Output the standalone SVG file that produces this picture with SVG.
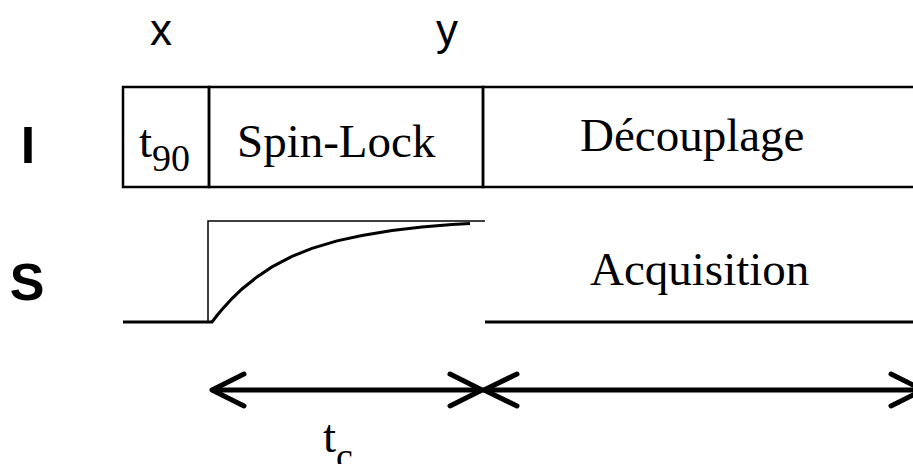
<svg xmlns="http://www.w3.org/2000/svg" width="913" height="464" viewBox="0 0 913 464">
<style>
.lab{font-family:"Liberation Sans",Arial,sans-serif;fill:#000}
.big{font-size:52px;font-weight:bold}
.xy{font-size:44px}
.tm{font-family:"Liberation Serif","Times New Roman",serif;font-size:47px;fill:#000}
.sub{font-size:38px}
.box{fill:none;stroke:#000;stroke-width:2.5}
.thin{fill:none;stroke:#000;stroke-width:1.5}
.sig{fill:none;stroke:#000;stroke-width:3}
.arr{fill:none;stroke:#000;stroke-width:5;stroke-linecap:round;stroke-linejoin:round}
</style>
<rect width="913" height="464" fill="#fff"/>
<g id="label-x"><text class="lab xy" x="161" y="45" text-anchor="middle">x</text></g>
<g id="label-y"><text class="lab xy" x="447" y="45" text-anchor="middle">y</text></g>
<g id="label-I"><text class="lab big" x="28" y="163" text-anchor="middle">I</text></g>
<g id="label-S"><text class="lab big" x="27" y="300" text-anchor="middle">S</text></g>
<g id="t90">
<rect class="box" x="123" y="87" width="86" height="100"/>
<text class="tm" x="139" y="157">t<tspan class="sub" dy="14">90</tspan></text>
</g>
<g id="spinlock">
<rect class="box" x="209" y="87" width="274" height="100"/>
<text class="tm" x="237" y="157">Spin-Lock</text>
</g>
<g id="decouplage">
<rect class="box" x="483" y="87" width="450" height="100"/>
<text class="tm" x="580" y="151">Découplage</text>
</g>
<g id="signal">
<polyline class="sig" points="123,322 213,322"/>
<polyline class="thin" points="208,322 208,221 485,221"/>
<path class="sig" d="M212,322 L217,315.5 L222,309.5 L232,298.6 L242,289 L257,276.9 L272,266.9 L292,256.4 L312,248.4 L337,240.9 L362,235.5 L392,230.5 L422,227 L452,224.5 L470,223.5"/>
</g>
<g id="acquisition">
<polyline class="sig" points="485,322 913,322"/>
<text class="tm" x="590" y="285">Acquisition</text>
</g>
<g id="connectors">
<line class="arr" x1="213" y1="390" x2="481" y2="390"/>
<polyline class="arr" points="244,374 212,390 244,406"/>
<polyline class="arr" points="450,374 482,390 450,406"/>
<line class="arr" x1="484" y1="390" x2="922" y2="390"/>
<polyline class="arr" points="517,374 484,390 517,406"/>
<polyline class="arr" points="891,374 923,390 891,406"/>
</g>
<g id="tc"><text class="tm" x="323" y="452">t<tspan class="sub" dy="17">c</tspan></text></g>
</svg>
